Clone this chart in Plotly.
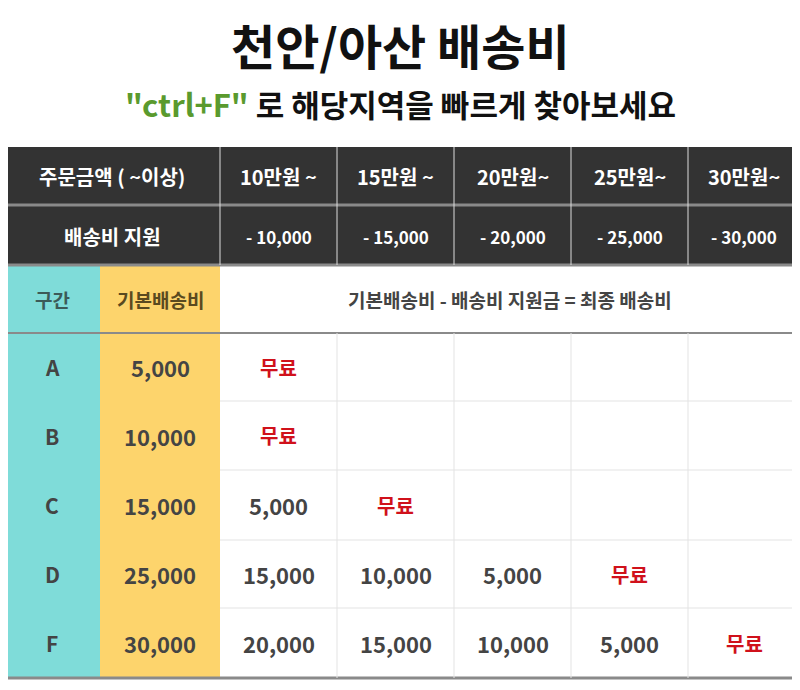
import plotly.graph_objects as go

title = "천안/아산 배송비"
order_cols = ["10만원 ~", "15만원 ~", "20만원~", "25만원~", "30만원~"]
subsidy = ["- 10,000", "- 15,000", "- 20,000", "- 25,000", "- 30,000"]
zones = ["A", "B", "C", "D", "F"]
base_fee = ["5,000", "10,000", "15,000", "25,000", "30,000"]
results = [
    ["무료", "", "", "", ""],
    ["무료", "", "", "", ""],
    ["5,000", "무료", "", "", ""],
    ["15,000", "10,000", "5,000", "무료", ""],
    ["20,000", "15,000", "10,000", "5,000", "무료"],
]

FONT = "Noto Sans CJK KR"
DARK, CYAN, YELLOW, RED, TXT = "#333333", "#7fdcd9", "#fdd46c", "#d0111b", "#444444"

# layout grid (pixels)
x_edges = [220, 337, 454, 571, 688, 800]
hdr_y = [147, 205, 265]
row_y = [265, 333, 401, 470, 540, 608, 678]

shapes, ann = [], []

def rect(x0, x1, y0, y1, fill):
    shapes.append(dict(type="rect", xref="x", yref="y", x0=x0, x1=x1, y0=y0, y1=y1,
                       fillcolor=fill, line=dict(width=0), layer="below"))

def line(x0, x1, y0, y1, color, w):
    shapes.append(dict(type="line", xref="x", yref="y", x0=x0, x1=x1, y0=y0, y1=y1,
                       line=dict(color=color, width=w)))

def text(x, y, s, color=TXT, size=20, bold=True):
    if s == "":
        return
    ann.append(dict(x=x, y=y, xref="x", yref="y", text=f"<b>{s}</b>" if bold else s,
                    showarrow=False, font=dict(family=FONT, size=size, color=color)))

rect(4, 810, hdr_y[0], hdr_y[2], DARK)
rect(4, 100, row_y[0], row_y[-1], CYAN)
rect(100, 220, row_y[0], row_y[-1], YELLOW)

line(4, 810, 205, 205, "#8a8a8a", 3)
line(4, 810, 265, 265, "#8a8a8a", 3)
line(4, 810, 333, 333, "#8a8a8a", 2)
line(4, 810, 678, 678, "#8a8a8a", 3)
for xe in x_edges[:-1]:
    line(xe, xe, hdr_y[0], hdr_y[2], "#dddddd", 1)
for xe in x_edges[1:-1]:
    line(xe, xe, 333, 678, "#e3e3e3", 1)
for ye in row_y[2:-1]:
    line(220, 810, ye, ye, "#e3e3e3", 1)

cx = [(a + b) / 2 for a, b in zip(x_edges[:-1], x_edges[1:])]
text(112, 176, "주문금액 ( ~이상)", "white", 20)
text(112, 236, "배송비 지원", "white", 20)
for i, c in enumerate(order_cols):
    text(cx[i], 176, c, "white", 20)
    text(cx[i], 236, subsidy[i], "white", 17)

text(52, 299, "구간", "#3c5a58", 19)
text(160, 299, "기본배송비", "#5a4a20", 19)
text(510, 299, "기본배송비 - 배송비 지원금 = 최종 배송비", TXT, 19)

for r in range(len(zones)):
    yc = (row_y[r + 1] + row_y[r + 2]) / 2
    text(52, yc, zones[r], TXT, 21)
    text(160, yc, base_fee[r], TXT, 22)
    for c, v in enumerate(results[r]):
        if v == "무료":
            text(cx[c], yc, v, RED, 20)
        else:
            text(cx[c], yc, v, TXT, 22)

text(400, 44, title, "#111111", 48)
ann.append(dict(x=400, y=103, xref="x", yref="y", showarrow=False,
                text="<b><span style='color:#5a9a2e'>\"ctrl+F\"</span> 로 해당지역을 빠르게 찾아보세요</b>",
                font=dict(family=FONT, size=31, color="#111111")))

fig = go.Figure()
fig.update_layout(
    width=800, height=690, margin=dict(l=0, r=0, t=0, b=0),
    plot_bgcolor="white", paper_bgcolor="white",
    # page body has an 8px margin, so offset ranges to line up with window pixels
    xaxis=dict(range=[8, 808], visible=False, fixedrange=True),
    yaxis=dict(range=[698, 8], visible=False, fixedrange=True),
    shapes=shapes, annotations=ann, showlegend=False,
)
fig.write_html("out.html")
